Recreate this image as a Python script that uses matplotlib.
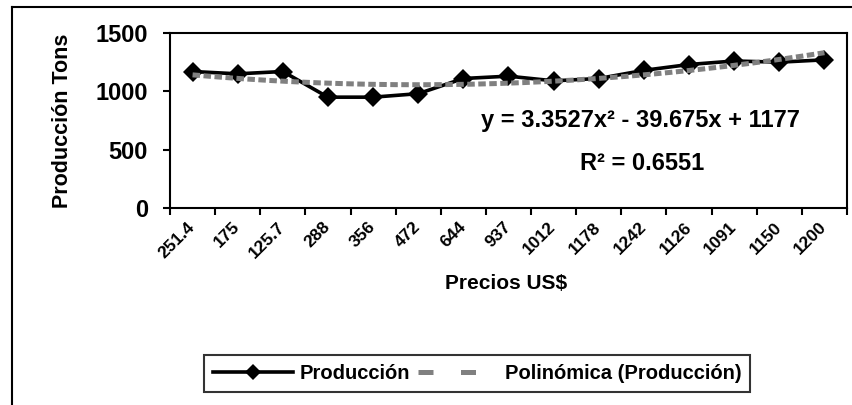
import numpy as np
import matplotlib
matplotlib.use("Agg")
import matplotlib.pyplot as plt
from matplotlib.lines import Line2D

plt.rcParams['font.family'] = ['Liberation Sans', 'DejaVu Sans']
plt.rcParams['font.weight'] = 'bold'
plt.rcParams['axes.labelweight'] = 'bold'

# data
precios = ['251.4', '175', '125.7', '288', '356', '472', '644', '937',
           '1012', '1178', '1242', '1126', '1091', '1150', '1200']
produccion = [1170, 1150, 1170, 950, 950, 980, 1110, 1130,
              1090, 1110, 1180, 1230, 1260, 1250, 1270]
ecuacion = 'y = 3.3527x² - 39.675x + 1177'
r2_texto = 'R² = 0.6551'

W, H = 853, 405
fig = plt.figure(figsize=(W / 100, H / 100), dpi=100)

# frame of the chart area (only top and left visible in the original crop)
fig.add_artist(Line2D([12 / W, 1.0], [1 - 7 / H, 1 - 7 / H], color='black', lw=1.5))
fig.add_artist(Line2D([12 / W, 12 / W], [0.0, 1 - 7 / H], color='black', lw=1.5))

ax = fig.add_axes([170 / W, 1 - 208 / H, (847 - 170) / W, (208 - 33) / H])

x = np.arange(1, len(produccion) + 1)
ax.plot(x, produccion, color='black', lw=2.6, marker='D', markersize=10.5,
        markeredgewidth=0, zorder=3)

# quadratic trend (same as the spreadsheet trendline)
coef = np.polyfit(x, produccion, 2)
xt = np.linspace(1, 15, 200)
ax.plot(xt, np.polyval(coef, xt), color='#808080', lw=3.6,
        dashes=(1.5, 0.7), dash_capstyle='butt', zorder=4)

ax.set_xlim(0.5, 15.5)
ax.set_ylim(0, 1500)
ax.set_yticks([0, 500, 1000, 1500])
ax.tick_params(axis='y', direction='out', length=5, width=1.5, labelsize=17, pad=11)
ax.set_xticks(x)
ax.set_xticklabels(precios, rotation=45, ha='right', va='center',
                   rotation_mode='anchor', fontsize=12.5, fontweight='bold')
ax.tick_params(axis='x', length=0, pad=12)
ax.set_xticks(np.arange(0.5, 16, 1), minor=True)
ax.tick_params(axis='x', which='minor', direction='out', length=5, width=1.5)
for lab in ax.get_yticklabels():
    lab.set_fontweight('bold')
for s in ax.spines.values():
    s.set_linewidth(1.5)

ax.set_ylabel('Producción Tons', fontsize=15.5, fontweight='bold')
ax.yaxis.set_label_coords(-0.143, 0.5)
ax.set_xlabel('Precios US$', fontsize=15, fontweight='bold')
ax.xaxis.set_label_coords(0.496, -0.375)

ax.text(640 / W, 1 - 121 / H, ecuacion, transform=fig.transFigure,
        ha='center', va='center', fontsize=17, fontweight='bold')
ax.text(642 / W, 1 - 163 / H, r2_texto, transform=fig.transFigure,
        ha='center', va='center', fontsize=17, fontweight='bold')

h1 = Line2D([], [], color='black', lw=2.6, marker='D', markersize=8, markeredgewidth=0)
h2 = Line2D([], [], color='#808080', lw=3.6, dashes=(3, 5.5), dash_capstyle='butt')
leg = fig.legend([h1, h2], ['Producción', 'Polinómica (Producción)'],
                 loc='center', bbox_to_anchor=(477 / W, 1 - 373.5 / H), ncol=2,
                 prop={'size': 14.5, 'weight': 'bold'}, frameon=True,
                 fancybox=False, edgecolor='black',
                 handlelength=4.0, handletextpad=0.3, columnspacing=0.4,
                 borderpad=0.45, borderaxespad=0)
leg.get_frame().set_linewidth(1.5)

fig.savefig('out.png', dpi=100)
